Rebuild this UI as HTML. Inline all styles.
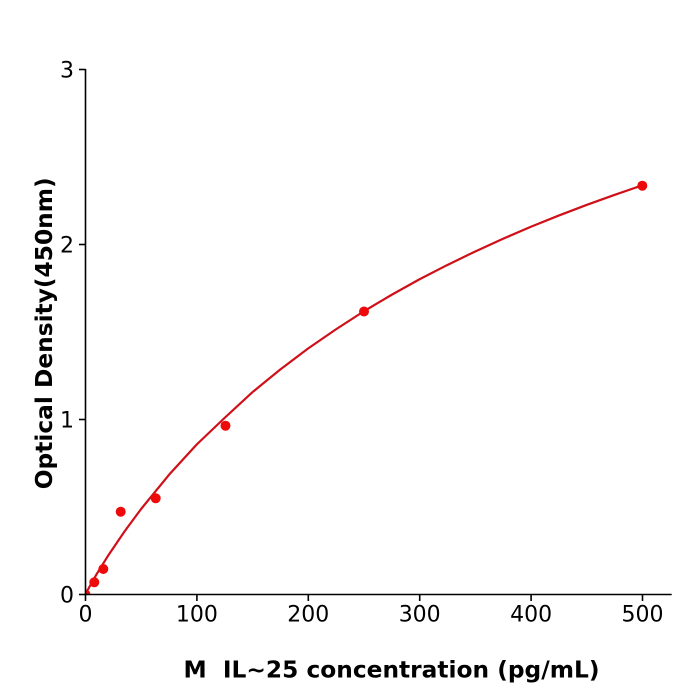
<!DOCTYPE html>
<html>
<head>
<meta charset="utf-8">
<style>
  html, body { margin: 0; padding: 0; background: #ffffff; }
  svg { display: block; }
  text { font-family: "DejaVu Sans", "Liberation Sans", sans-serif; fill: #000; }
</style>
</head>
<body>
<svg width="700" height="700" viewBox="0 0 700 700" xmlns="http://www.w3.org/2000/svg">
  <defs>
    <clipPath id="axclip">
      <rect x="85.5" y="40" width="600" height="554.5"/>
    </clipPath>
  </defs>

  <!-- fitted curve -->
  <g clip-path="url(#axclip)">
    <path d="M85.5,594.5 L87.7,590.0 L91.1,583.9 L96.6,574.2 L107.7,556.3 L124.4,531.6 L141.1,509.0 L168.9,474.9 L196.7,444.5 L224.5,418.0 L252.3,392.3 L280.1,369.6 L307.9,348.6 L335.7,329.5 L363.5,311.5 L391.3,295.0 L419.1,279.5 L446.9,265.2 L474.7,251.7 L502.5,239.0 L530.3,227.0 L558.1,215.8 L585.9,205.2 L613.7,195.2 L641.5,185.6"
          fill="none" stroke="#d01018" stroke-width="2.2" stroke-linejoin="round" stroke-linecap="round"/>
    <!-- data points -->
    <g fill="#ee0a0a">
      <circle cx="85.5" cy="594.5" r="5"/>
      <circle cx="94.3" cy="582.3" r="5"/>
      <circle cx="103.3" cy="569" r="5"/>
      <circle cx="120.7" cy="511.7" r="5"/>
      <circle cx="155.7" cy="498.3" r="5"/>
      <circle cx="225.5" cy="425.7" r="5"/>
      <circle cx="364" cy="311.5" r="5"/>
      <circle cx="642.3" cy="185.7" r="5"/>
    </g>
  </g>

  <!-- axes -->
  <g stroke="#000" stroke-width="1.6" fill="none">
    <line x1="85.5" y1="69" x2="85.5" y2="595.3"/>
    <line x1="84.7" y1="594.5" x2="671.7" y2="594.5"/>
    <!-- x ticks -->
    <line x1="85.5" y1="594.5" x2="85.5" y2="601"/>
    <line x1="196.9" y1="594.5" x2="196.9" y2="601"/>
    <line x1="308.3" y1="594.5" x2="308.3" y2="601"/>
    <line x1="419.7" y1="594.5" x2="419.7" y2="601"/>
    <line x1="531.1" y1="594.5" x2="531.1" y2="601"/>
    <line x1="642.5" y1="594.5" x2="642.5" y2="601"/>
    <!-- y ticks -->
    <line x1="79" y1="594.5" x2="85.5" y2="594.5"/>
    <line x1="79" y1="419.5" x2="85.5" y2="419.5"/>
    <line x1="79" y1="244.5" x2="85.5" y2="244.5"/>
    <line x1="79" y1="69.5" x2="85.5" y2="69.5"/>
  </g>

  <!-- x tick labels -->
  <g font-size="22" text-anchor="middle">
    <text x="85.5" y="621.5">0</text>
    <text x="196.9" y="621.5">100</text>
    <text x="308.3" y="621.5">200</text>
    <text x="419.7" y="621.5">300</text>
    <text x="531.1" y="621.5">400</text>
    <text x="642.5" y="621.5">500</text>
  </g>

  <!-- y tick labels -->
  <g font-size="22" text-anchor="end">
    <text x="74" y="602.5">0</text>
    <text x="74" y="427.5">1</text>
    <text x="74" y="252.5">2</text>
    <text x="74" y="77.5">3</text>
  </g>

  <!-- axis labels -->
  <text x="391.5" y="677.7" font-size="23.3" font-weight="bold" text-anchor="middle" xml:space="preserve" style="white-space:pre">M  IL~25 concentration (pg/mL)</text>
  <text x="0" y="0" font-size="23.3" font-weight="bold" text-anchor="middle" transform="translate(52,333.3) rotate(-90)">Optical Density(450nm)</text>
</svg>
</body>
</html>
